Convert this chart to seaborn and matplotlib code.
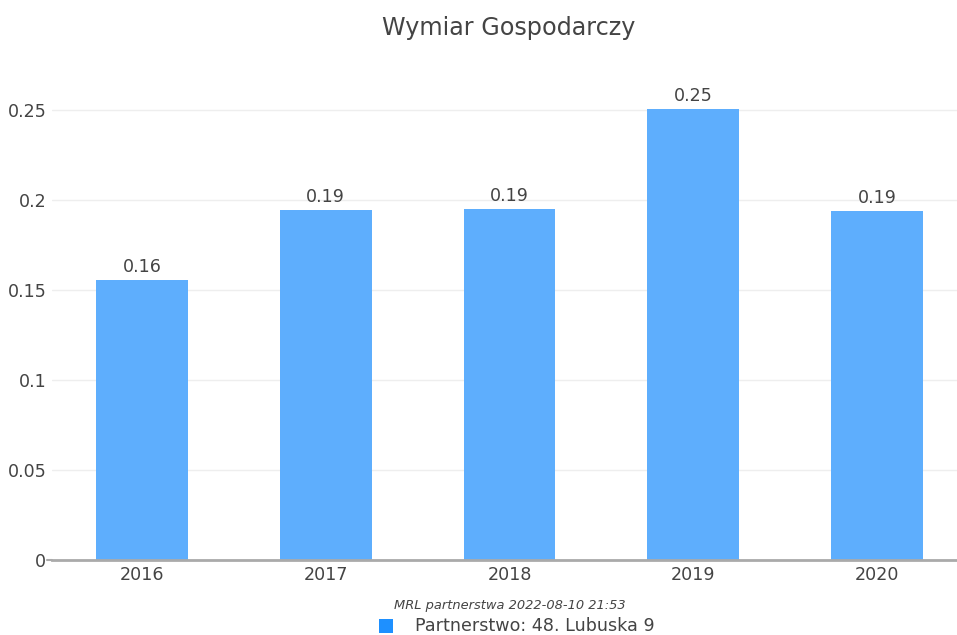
import matplotlib
matplotlib.use("Agg")
import matplotlib.pyplot as plt
import seaborn as sns
import pandas as pd
from matplotlib.lines import Line2D
from matplotlib.patches import Rectangle

years = ["2016", "2017", "2018", "2019", "2020"]
values = [0.1556, 0.1944, 0.1948, 0.2507, 0.1939]
labels = ["0.16", "0.19", "0.19", "0.25", "0.19"]
yticks = [0, 0.05, 0.1, 0.15, 0.2, 0.25]
ytick_labels = ["0", "0.05", "0.1", "0.15", "0.2", "0.25"]
title = "Wymiar Gospodarczy"
footnote = "MRL partnerstwa 2022-08-10 21:53"
series_name = "Partnerstwo: 48. Lubuska 9"

sns.set_style("white")
plt.rcParams['font.family'] = ['DejaVu Sans']

W, H = 957, 635
fig = plt.figure(figsize=(W / 100, H / 100), dpi=100)
left, right, top, bottom = 52, 957, 80, 560
ax = fig.add_axes([left / W, (H - bottom) / H, (right - left) / W, (bottom - top) / H])

df = pd.DataFrame({"year": years, "value": values})
sns.barplot(data=df, x="year", y="value", ax=ax, color="#5eaefd", width=0.5,
            saturation=1, edgecolor="none")

ax.set_xlim(-0.49, 4.435)
ax.set_ylim(0, 0.2667)
ax.set_yticks(yticks)
ax.set_yticklabels(ytick_labels)
ax.set_xlabel("")
ax.set_ylabel("")
ax.grid(axis="y", color="#eeeeee", linewidth=1)
ax.set_axisbelow(True)
for s in ["top", "right", "left"]:
    ax.spines[s].set_visible(False)
ax.spines["bottom"].set_color("#aaaaaa")
ax.spines["bottom"].set_linewidth(2)
ax.tick_params(axis="both", length=0, labelsize=12.6, colors="#444444")
ax.tick_params(axis="x", pad=4)
ax.tick_params(axis="y", pad=4)

# small tick at zero
ax.add_line(Line2D([-0.0055, 0], [0, 0], transform=ax.transAxes, color="#aaaaaa",
                   linewidth=1.5, clip_on=False))

for cont in ax.containers:
    ax.bar_label(cont, labels=labels, padding=3, fontsize=12.6, color="#444444")

fig.text(509 / W, 1 - 28 / H, title, ha="center", va="center", fontsize=17.2, color="#444444")
fig.text(510 / W, 1 - 605 / H, footnote, ha="center", va="center", fontsize=9.4,
         style="italic", color="#444444")
fig.patches.append(Rectangle((379 / W, 1 - 633 / H), 14 / W, 14 / H, transform=fig.transFigure,
                             facecolor="#1e90ff", edgecolor="none"))
fig.text(415 / W, 1 - 626 / H, series_name, ha="left", va="center", fontsize=12.6, color="#444444")

fig.savefig("out.png", dpi=100, facecolor="white")
